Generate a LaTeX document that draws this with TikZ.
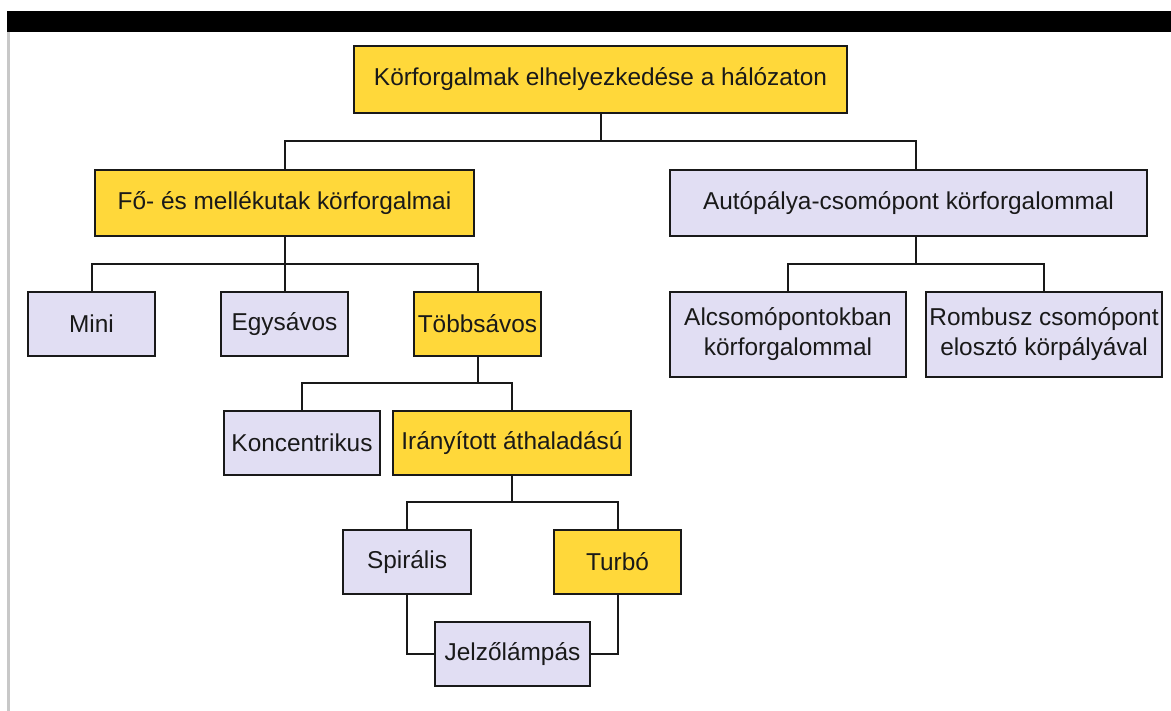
\documentclass[tikz,border=0pt]{standalone}
\usepackage{fontspec}
\setmainfont{Liberation Sans}
\definecolor{boxyellow}{HTML}{FFD83A}
\definecolor{boxlav}{HTML}{E1DEF3}
\definecolor{edgegray}{HTML}{C8C8C8}
\tikzset{
  box/.style={draw=black!90, line width=2pt, inner sep=0pt, align=center,
    font=\fontsize{24.4}{30}\selectfont, text=black!90},
  ybox/.style={box, fill=boxyellow},
  lbox/.style={box, fill=boxlav},
  conn/.style={draw=black!90, line width=2pt},
}
\begin{document}
\begin{tikzpicture}[x=1pt,y=-1pt]
\useasboundingbox (0,0) rectangle (1171,711);
\fill[black] (7,11) rectangle (1171,32);
\fill[edgegray] (7,32) rectangle (9.5,711);

\node[ybox, minimum width=493pt, minimum height=67pt] (top) at (600.5,79.5) {Körforgalmak elhelyezkedése a hálózaton};
\node[ybox, minimum width=379pt, minimum height=66pt] (fo) at (284.5,203) {Fő- és mellékutak körforgalmai};
\node[lbox, minimum width=477pt, minimum height=66pt] (auto) at (908.5,203) {Autópálya-csomópont körforgalommal};
\node[lbox, minimum width=127pt, minimum height=64pt] (mini) at (91.5,324) {Mini};
\node[lbox, minimum width=127pt, minimum height=64pt] (egy) at (284.5,324) {Egysávos};
\node[ybox, minimum width=127pt, minimum height=64pt] (tobb) at (477.5,324) {Többsávos};
\node[lbox, minimum width=156pt, minimum height=64pt] (konc) at (302,443) {Koncentrikus};
\node[ybox, minimum width=238pt, minimum height=64pt] (iran) at (512,443) {Irányított áthaladású};
\node[lbox, minimum width=128pt, minimum height=64pt] (spir) at (407,562) {Spirális};
\node[ybox, minimum width=127pt, minimum height=64pt] (turbo) at (617.5,562) {Turbó};
\node[lbox, minimum width=155pt, minimum height=64pt] (jelzo) at (512.5,654) {Jelzőlámpás};
\node[lbox, minimum width=236pt, minimum height=85pt] (alcs) at (788,334.5) {Alcsomópontokban\\körforgalommal};
\node[lbox, minimum width=236pt, minimum height=85pt] (romb) at (1044,334.5) {Rombusz csomópont\\elosztó körpályával};

% junctions
\coordinate (j1) at (600.5,141);
\coordinate (jat) at (916,170);
\coordinate (jab) at (916,236);
\coordinate (j2) at (916,264);
\coordinate (j3) at (284.5,264);
\coordinate (j5) at (477.5,383);
\coordinate (j6) at (512,502);

\draw[conn] (top.south) -- (j1);
\draw[conn] (fo.north) |- (j1) -| (jat);
\draw[conn] (fo.south) -- (egy.north);
\draw[conn] (mini.north) |- (j3) -| (tobb.north);
\draw[conn] (jab) -- (j2);
\draw[conn] (alcs.north) |- (j2) -| (romb.north);
\draw[conn] (tobb.south) -- (j5);
\draw[conn] (konc.north) |- (j5) -| (iran.north);
\draw[conn] (iran.south) -- (j6);
\draw[conn] (spir.north) |- (j6) -| (turbo.north);
\draw[conn] (spir.south) |- (jelzo.west);
\draw[conn] (turbo.south) |- (jelzo.east);
\end{tikzpicture}
\end{document}
